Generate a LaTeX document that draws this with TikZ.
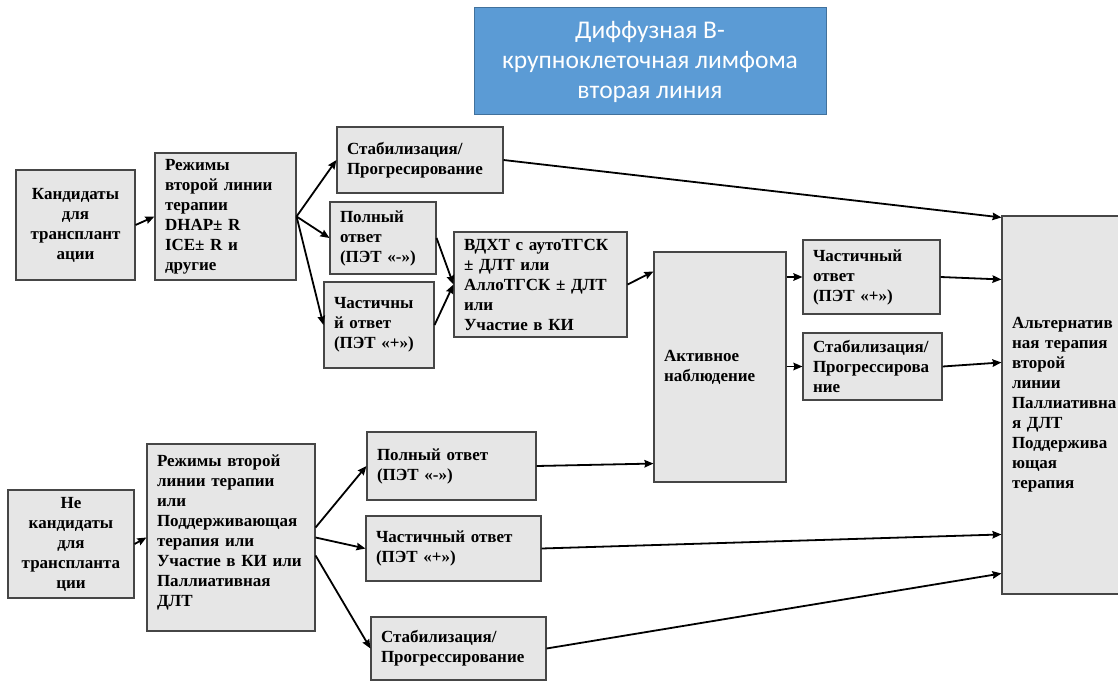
\documentclass[tikz,border=0pt]{standalone}
\usepackage{fontspec}
\setmainfont{Liberation Serif}
\newfontfamily\titlefont{Carlito}
\usepackage{tikz}
\usetikzlibrary{arrows.meta, positioning, calc}
\definecolor{blockfill}{RGB}{230,230,230}
\definecolor{blockline}{RGB}{70,70,70}
\definecolor{titlefill}{RGB}{91,155,213}
\definecolor{titleline}{RGB}{65,113,156}
\tikzset{
    block/.style={
        rectangle,
        draw=blockline,
        line width=1.1pt,
        fill=blockfill,
        inner xsep=10pt,
        inner ysep=0pt,
        align=left,
        font=\fontsize{17}{20}\selectfont\bfseries
    },
    centerblock/.style={
        block,
        align=center
    },
    titleblock/.style={
        rectangle,
        draw=titleline,
        line width=1pt,
        fill=titlefill,
        text=white,
        align=center,
        minimum width=352pt,
        minimum height=107pt,
        font=\titlefont\fontsize{25.5}{30}\selectfont
    },
    connection/.style={
        draw=black,
        line width=1.8pt,
        -{Stealth[length=9pt,width=7.5pt,inset=1pt]}
    }
}

\begin{document}
\begin{tikzpicture}[x=1pt, y=-1pt]
\useasboundingbox (0,0) rectangle (1118,682);

% Title
\node[titleblock] (title) at (650,61.5) {Диффузная В-\\крупноклеточная лимфома\\вторая линия};

% Candidates for transplantation
\node[centerblock, text width=99pt, minimum height=110pt] (cand) at (75.5,225) {Кандидаты\\для\\трансплант\\ации};
\node[block, text width=121pt, minimum height=127pt] (reg1) at (225.5,216.5) {Режимы\\второй линии\\терапии\\DHAP± R\\ICE± R и\\другие};
\node[block, text width=146pt, minimum height=66pt] (stab1) at (420,160) {Стабилизация/\\Прогресирование};
\node[block, text width=86pt, minimum height=72pt] (full1) at (383,238) {Полный\\ответ\\(ПЭТ «-»)};
\node[block, text width=90pt, minimum height=86pt] (part1) at (379,325) {Частичны\\й ответ\\(ПЭТ «+»)};
\node[block, text width=153pt, minimum height=105pt] (vdht) at (540.5,284.5) {ВДХТ с аутоТГСК\\± ДЛТ или\\АллоТГСК ± ДЛТ\\или\\Участие в КИ};

% Observation
\node[block, text width=112pt, minimum height=230pt] (active) at (720,367) {Активное\\наблюдение};
\node[block, text width=117pt, minimum height=74pt] (part2) at (871.5,277) {Частичный\\ответ\\(ПЭТ «+»)};
\node[block, text width=119pt, minimum height=67pt] (stab2) at (872.5,366.5) {Стабилизация/\\Прогрессирова\\ние};

% Alternative therapy
\node[block, text width=100pt, minimum height=378pt] (alt) at (1062,405) {Альтернатив\\ная терапия\\второй\\линии\\Паллиативна\\я ДЛТ\\Поддержива\\ющая\\терапия};

% Not candidates for transplantation
\node[centerblock, text width=106pt, minimum height=108pt] (noncand) at (71,544) {Не\\кандидаты\\для\\транспланта\\ции};
\node[block, text width=148pt, minimum height=187pt] (reg2) at (231,537.5) {Режимы второй\\линии терапии\\или\\Поддерживающая\\терапия или\\Участие в КИ или\\Паллиативная\\ДЛТ\\[-6pt]\mbox{}};
\node[block, text width=149pt, minimum height=68pt] (full2) at (451.5,466) {Полный ответ\\(ПЭТ «-»)};
\node[block, text width=155pt, minimum height=65pt] (part3) at (453.5,548.5) {Частичный ответ\\(ПЭТ «+»)};
\node[block, text width=155pt, minimum height=63pt] (stab3) at (458.5,648.5) {Стабилизация/\\Прогрессирование};

% Upper branch
\draw[connection] (cand.east) -- (reg1.west);
\draw[connection] (reg1.east) -- (stab1.west);
\draw[connection] (reg1.east) -- (full1.west);
\draw[connection] (reg1.east) -- (part1.west);
\draw[connection] (full1.east) -- (vdht.west);
\draw[connection] (part1.east) -- (vdht.west);
\draw[connection] (vdht.east) -- ([yshift=-20pt]active.north west);
\draw[connection] (active.east |- part2.west) -- (part2.west);
\draw[connection] (active.east |- stab2.west) -- (stab2.west);

% Into alternative therapy
\draw[connection] (stab1.east) -- ([yshift=-2pt]alt.north west);
\draw[connection] (part2.east) -- ([yshift=-64pt]alt.north west);
\draw[connection] (stab2.east) -- ([yshift=-147pt]alt.north west);

% Lower branch
\draw[connection] (noncand.east) -- (reg2.west);
\draw[connection] ([yshift=10pt]reg2.east) -- (full2.west);
\draw[connection] (reg2.east) -- (part3.west);
\draw[connection] ([yshift=-18pt]reg2.east) -- (stab3.west);
\draw[connection] (full2.east) -- ([yshift=19pt]active.south west);
\draw[connection] (part3.east) -- ([yshift=-319pt]alt.north west);
\draw[connection] (stab3.east) -- ([yshift=-358pt]alt.north west);

\end{tikzpicture}
\end{document}
